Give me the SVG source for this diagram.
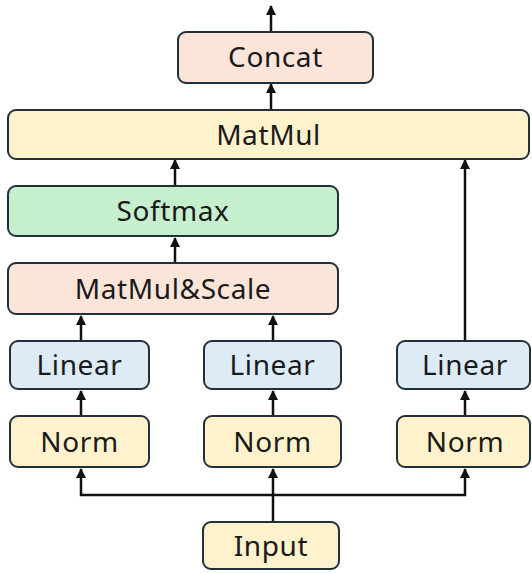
<svg xmlns="http://www.w3.org/2000/svg" width="532" height="573" viewBox="0 0 532 573">
<defs>
<marker id="ah" viewBox="0 0 10 10" refX="9" refY="5" markerWidth="4" markerHeight="4" orient="auto-start-reverse" markerUnits="strokeWidth">
<path d="M0,0 L10,5 L0,10 z" fill="#111"/>
</marker>
</defs>
<style>
.box{stroke:#22303a;stroke-width:2}
.peach{fill:#FBE4D8}
.yellow{fill:#FFF2CC}
.green{fill:#C6EFCE}
.blue{fill:#DDEBF7}
.lbl{font-family:"Noto Sans","Open Sans",sans-serif;font-size:28px;letter-spacing:0.6px;fill:#1a1a1a;text-anchor:middle;dominant-baseline:central}
.c{stroke:#111;stroke-width:2.5;fill:none}
</style>
<rect width="532" height="573" fill="#fff"/>
<g id="connectors">
<line class="c" x1="271" y1="32" x2="271" y2="6" marker-end="url(#ah)"/>
<line class="c" x1="271" y1="110" x2="271" y2="84" marker-end="url(#ah)"/>
<line class="c" x1="175" y1="186" x2="175" y2="160" marker-end="url(#ah)"/>
<line class="c" x1="465" y1="341" x2="465" y2="160" marker-end="url(#ah)"/>
<line class="c" x1="175" y1="263" x2="175" y2="238" marker-end="url(#ah)"/>
<line class="c" x1="81" y1="341" x2="81" y2="316" marker-end="url(#ah)"/>
<line class="c" x1="273" y1="341" x2="273" y2="316" marker-end="url(#ah)"/>
<line class="c" x1="81" y1="416" x2="81" y2="391" marker-end="url(#ah)"/>
<line class="c" x1="273" y1="416" x2="273" y2="391" marker-end="url(#ah)"/>
<line class="c" x1="465" y1="416" x2="465" y2="391" marker-end="url(#ah)"/>
<line class="c" x1="273" y1="522" x2="273" y2="469" marker-end="url(#ah)"/>
<polyline class="c" points="81,469 81,495 465,495 465,469" marker-start="url(#ah)" marker-end="url(#ah)"/>
</g>
<g id="concat"><rect class="box peach" x="178" y="32" width="195" height="51" rx="8"/><text class="lbl" x="275.5" y="56">Concat</text></g>
<g id="matmul"><rect class="box yellow" x="8" y="110" width="521" height="49" rx="8"/><text class="lbl" x="268.5" y="133.5">MatMul</text></g>
<g id="softmax"><rect class="box green" x="8" y="186" width="330" height="50" rx="8"/><text class="lbl" x="173" y="210">Softmax</text></g>
<g id="matmulscale"><rect class="box peach" x="8" y="263" width="330" height="51" rx="8"/><text class="lbl" x="173" y="287.5">MatMul&amp;Scale</text></g>
<g id="linear1"><rect class="box blue" x="10" y="341" width="139" height="48" rx="8"/><text class="lbl" x="79.5" y="364">Linear</text></g>
<g id="linear2"><rect class="box blue" x="204" y="341" width="137" height="48" rx="8"/><text class="lbl" x="272.5" y="364">Linear</text></g>
<g id="linear3"><rect class="box blue" x="397" y="341" width="133" height="48" rx="8"/><text class="lbl" x="465" y="364">Linear</text></g>
<g id="norm1"><rect class="box yellow" x="10" y="416" width="139" height="51" rx="8"/><text class="lbl" x="79.5" y="440.5">Norm</text></g>
<g id="norm2"><rect class="box yellow" x="204" y="416" width="137" height="51" rx="8"/><text class="lbl" x="272.5" y="440.5">Norm</text></g>
<g id="norm3"><rect class="box yellow" x="397" y="416" width="133" height="51" rx="8"/><text class="lbl" x="465" y="440.5">Norm</text></g>
<g id="input"><rect class="box yellow" x="203" y="522" width="136" height="47" rx="8"/><text class="lbl" x="271" y="544.5">Input</text></g>
</svg>
